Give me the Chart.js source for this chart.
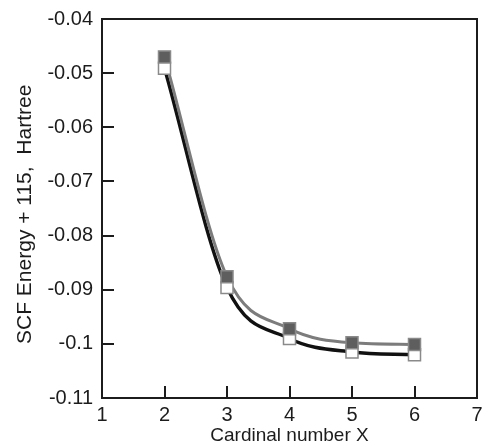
<!DOCTYPE html>
<html>
<head>
<meta charset="utf-8">
<script src="https://cdn.jsdelivr.net/npm/chart.js@4"></script>
<style>
  html, body { margin: 0; padding: 0; background: #fff; }
  #wrap { width: 487px; height: 445px; }
</style>
</head>
<body>
<div id="wrap"><canvas id="scfChart"></canvas></div>
<script>
// Cardinal number X of the basis set
const cardinal = [2, 3, 4, 5, 6];
// SCF energy + 115 (Hartree), filled grey squares
const scfGrey = [-0.0470, -0.0876, -0.0972, -0.0998, -0.1001];
// SCF energy + 115 (Hartree), open squares
const scfOpen = [-0.0491, -0.0896, -0.0990, -0.1015, -0.1020];

const xTickValues = [1, 2, 3, 4, 5, 6, 7];
const yTickValues = [-0.11, -0.1, -0.09, -0.08, -0.07, -0.06, -0.05, -0.04];
const yTickLabels = ['-0.11', '-0.1', '-0.09', '-0.08', '-0.07', '-0.06', '-0.05', '-0.04'];

const FONT = "'Liberation Sans', Arial, Helvetica, sans-serif";
const INK = '#1c1c1c';

const toPoints = ys => cardinal.map((x, i) => ({ x: x, y: ys[i] }));

// Frame around the plot and inward tick marks
const frameTicks = {
    id: 'frameTicks',
    afterDraw: function(chart) {
        const ctx = chart.ctx;
        const a = chart.chartArea;
        const xs = chart.scales.x;
        const ys = chart.scales.y;
        const len = 12;
        ctx.save();
        ctx.strokeStyle = INK;
        ctx.lineWidth = 2;
        ctx.strokeRect(a.left, a.top, a.right - a.left, a.bottom - a.top);
        ctx.beginPath();
        xTickValues.slice(1, -1).forEach(v => {
            const px = Math.round(xs.getPixelForValue(v));
            ctx.moveTo(px, a.bottom);
            ctx.lineTo(px, a.bottom - len);
        });
        yTickValues.slice(1, -1).forEach(v => {
            const py = Math.round(ys.getPixelForValue(v));
            ctx.moveTo(a.left, py);
            ctx.lineTo(a.left + len, py);
        });
        ctx.stroke();
        ctx.restore();
    }
};

const ctx = document.getElementById('scfChart').getContext('2d');

new Chart(ctx, {
    type: 'scatter',
    data: {
        datasets: [
            {
                label: 'fit (open)',
                data: toPoints(scfOpen),
                showLine: true,
                borderColor: '#111111',
                borderWidth: 3.4,
                pointRadius: 0,
                cubicInterpolationMode: 'monotone',
                order: 4
            },
            {
                label: 'fit (filled)',
                data: toPoints(scfGrey),
                showLine: true,
                borderColor: '#7c7c7c',
                borderWidth: 3,
                pointRadius: 0,
                cubicInterpolationMode: 'monotone',
                order: 3
            },
            {
                label: 'open',
                data: toPoints(scfOpen),
                showLine: false,
                pointStyle: 'rect',
                pointRadius: 8.5,
                pointBackgroundColor: '#ffffff',
                pointBorderColor: '#8a8a8a',
                pointBorderWidth: 1.5,
                order: 2
            },
            {
                label: 'filled',
                data: toPoints(scfGrey),
                showLine: false,
                pointStyle: 'rect',
                pointRadius: 8.5,
                pointBackgroundColor: '#5e5e5e',
                pointBorderColor: '#8a8a8a',
                pointBorderWidth: 1.5,
                order: 1
            }
        ]
    },
    options: {
        responsive: true,
        maintainAspectRatio: false,
        animation: false,
        layout: {
            padding: { top: 19, right: 1, bottom: 0, left: 0 }
        },
        plugins: {
            legend: { display: false },
            tooltip: { enabled: false }
        },
        scales: {
            x: {
                type: 'linear',
                min: 1,
                max: 7,
                afterBuildTicks: function(scale) {
                    scale.ticks = xTickValues.map(v => ({ value: v }));
                },
                afterFit: function(scale) {
                    scale.height = 47;
                    scale.paddingLeft = 0;
                    scale.paddingRight = 0;
                },
                grid: { display: false, drawTicks: false },
                border: { display: false },
                ticks: {
                    color: INK,
                    padding: 5,
                    maxRotation: 0,
                    autoSkip: false,
                    font: { family: FONT, size: 20 }
                },
                title: {
                    display: true,
                    text: 'Cardinal number X',
                    color: INK,
                    font: { family: FONT, size: 19, lineHeight: 1 },
                    padding: { top: -1, bottom: 0 }
                }
            },
            y: {
                type: 'linear',
                min: -0.11,
                max: -0.04,
                afterBuildTicks: function(scale) {
                    scale.ticks = yTickValues.map(v => ({ value: v }));
                },
                afterFit: function(scale) {
                    scale.width = 102;
                    scale.paddingTop = 0;
                    scale.paddingBottom = 0;
                },
                grid: { display: false, drawTicks: false },
                border: { display: false },
                ticks: {
                    color: INK,
                    padding: 9,
                    autoSkip: false,
                    font: { family: FONT, size: 20 },
                    callback: function(value, index) {
                        return yTickLabels[index];
                    }
                },
                title: {
                    display: true,
                    text: 'SCF Energy + 115,  Hartree  ',
                    color: INK,
                    font: { family: FONT, size: 21, lineHeight: 1 },
                    padding: { top: 15, bottom: 0 }
                }
            }
        }
    },
    plugins: [frameTicks]
});
</script>
</body>
</html>
